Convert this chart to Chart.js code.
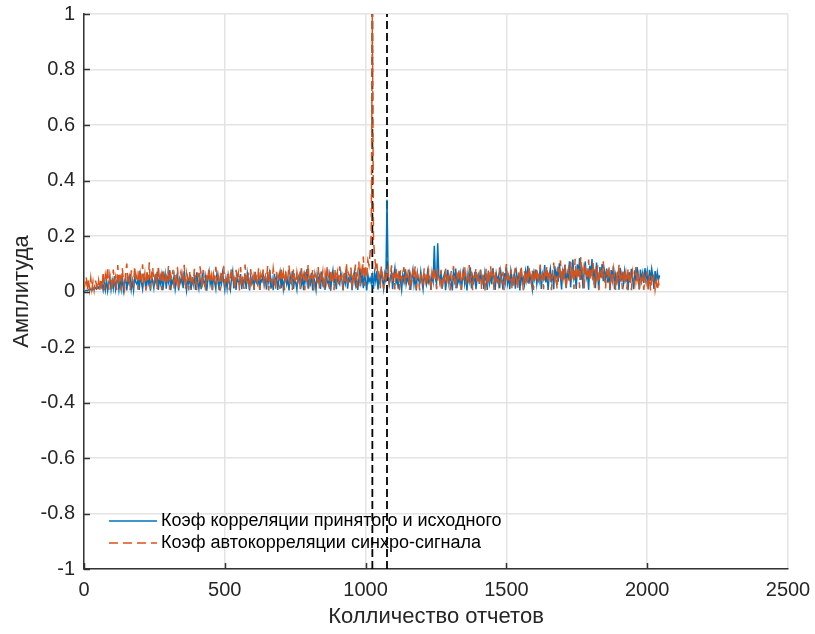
<!DOCTYPE html>
<html>
<head>
<meta charset="utf-8">
<title>Корреляция</title>
<script src="https://cdn.jsdelivr.net/npm/chart.js@4.4.1/dist/chart.umd.min.js"></script>
<style>
  html, body { margin: 0; padding: 0; background: #ffffff; }
  #wrap { width: 815px; height: 634px; }
</style>
</head>
<body>
<div id="wrap"><canvas id="chart" width="815" height="634"></canvas></div>
<script>
// Sample spacing between stored values (in samples)
const SAMPLE_STEP = 4;

// Коэф корреляции принятого и исходного (every 4th sample, 0..2044)
const corrRxTx = [
  0.000, 0.002, 0.004, 0.003, 0.006, 0.005, 0.009, 0.004, 0.011, 0.007, 0.014, 0.009, 0.018, 0.012, 0.021, 0.015,
  0.027, 0.005, 0.034, 0.006, 0.042, 0.003, 0.031, 0.048, 0.007, 0.039, 0.012, 0.055, 0.008, 0.036, 0.046, 0.006,
  0.041, 0.010, 0.058, 0.005, 0.035, 0.049, 0.004, 0.044, 0.029, 0.063, 0.009, 0.038, 0.004, 0.052, 0.033, 0.026,
  0.047, 0.006, 0.061, 0.032, 0.009, 0.054, 0.039, 0.008, 0.066, 0.027, 0.043, 0.003, 0.057, 0.035, 0.012, 0.049,
  0.031, 0.072, 0.006, 0.045, 0.028, 0.058, 0.005, 0.039, 0.064, 0.010, 0.051, 0.034, 0.077, 0.005, 0.042, 0.029,
  0.056, 0.009, 0.038, 0.067, 0.004, 0.046, 0.031, 0.059, 0.012, 0.074, 0.036, 0.004, 0.049, 0.027, 0.062, 0.006,
  0.043, 0.028, 0.055, 0.006, 0.069, 0.033, 0.010, 0.047, 0.008, 0.061, 0.038, 0.025, 0.053, 0.003, 0.044, 0.071,
  0.026, 0.048, 0.005, 0.059, 0.034, 0.010, 0.065, 0.041, 0.005, 0.052, 0.029, 0.068, 0.037, 0.006, 0.046, 0.012,
  0.058, 0.031, 0.007, 0.049, 0.073, 0.011, 0.042, 0.006, 0.056, 0.035, 0.027, 0.063, 0.008, 0.045, 0.032, 0.051,
  0.009, 0.066, 0.038, 0.004, 0.054, 0.029, 0.047, 0.006, 0.071, 0.033, 0.025, 0.058, 0.006, 0.043, 0.036, 0.062,
  0.027, 0.049, 0.007, 0.057, 0.034, 0.078, 0.010, 0.041, 0.005, 0.064, 0.031, 0.052, 0.006, 0.046, 0.069, 0.012,
  0.053, 0.008, 0.039, 0.061, 0.027, 0.045, 0.004, 0.058, 0.035, 0.074, 0.009, 0.048, 0.031, 0.007, 0.055, 0.038,
  0.064, 0.025, 0.047, 0.005, 0.059, 0.036, 0.081, 0.010, 0.043, 0.028, 0.067, 0.004, 0.051, 0.034, 0.006, 0.062,
  0.037, 0.054, 0.009, 0.072, 0.029, 0.046, 0.006, 0.063, 0.038, 0.025, 0.057, 0.003, 0.049, 0.076, 0.032, 0.044,
  0.008, 0.059, 0.035, 0.026, 0.068, 0.041, 0.004, 0.053, 0.031, 0.079, 0.010, 0.046, 0.037, 0.061, 0.005, 0.048,
  0.071, 0.027, 0.052, 0.006, 0.044, 0.083, 0.033, 0.058, 0.012, 0.066, 0.039, 0.004, 0.061, 0.035, 0.048, 0.029,
  0.055, 0.009, 0.067, 0.038, 0.074, 0.007, 0.049, 0.029, 0.082, 0.043, 0.011, 0.061, 0.034, 0.331, 0.052, 0.026,
  0.047, 0.069, 0.008, 0.056, 0.084, 0.031, 0.045, 0.010, 0.073, 0.038, 0.006, 0.059, 0.036, 0.081, 0.027, 0.051,
  0.033, 0.062, 0.006, 0.048, 0.077, 0.025, 0.054, 0.004, 0.066, 0.041, 0.029, 0.071, 0.037, 0.008, 0.058, 0.044,
  0.026, 0.069, 0.035, 0.052, 0.006, 0.061, 0.038, 0.165, 0.045, 0.028, 0.174, 0.057, 0.031, 0.073, 0.010, 0.049,
  0.064, 0.005, 0.043, 0.078, 0.029, 0.055, 0.036, 0.004, 0.068, 0.041, 0.083, 0.012, 0.051, 0.033, 0.062, 0.006,
  0.046, 0.072, 0.028, 0.057, 0.004, 0.065, 0.039, 0.087, 0.011, 0.054, 0.034, 0.071, 0.008, 0.048, 0.061, 0.027,
  0.079, 0.036, 0.052, 0.009, 0.068, 0.043, 0.006, 0.075, 0.031, 0.058, 0.026, 0.084, 0.047, 0.006, 0.063, 0.038,
  0.055, 0.012, 0.071, 0.042, 0.007, 0.066, 0.035, 0.089, 0.029, 0.053, 0.008, 0.074, 0.046, 0.031, 0.062, 0.010,
  0.068, 0.039, 0.057, 0.004, 0.081, 0.034, 0.049, 0.025, 0.072, 0.044, 0.093, 0.028, 0.059, 0.037, 0.008, 0.066,
  0.045, 0.079, 0.027, 0.058, 0.038, 0.086, 0.009, 0.064, 0.047, 0.095, 0.033, 0.071, 0.006, 0.056, 0.082, 0.041,
  0.062, 0.008, 0.091, 0.048, 0.073, 0.035, 0.102, 0.054, 0.007, 0.083, 0.044, 0.097, 0.012, 0.068, 0.052, 0.109,
  0.015, 0.076, 0.115, 0.047, 0.064, 0.009, 0.098, 0.056, 0.121, 0.042, 0.085, 0.011, 0.072, 0.108, 0.049, 0.067,
  0.006, 0.093, 0.058, 0.117, 0.041, 0.079, 0.012, 0.104, 0.062, 0.007, 0.088, 0.051, 0.099, 0.037, 0.074, 0.045,
  0.083, 0.032, 0.066, 0.005, 0.077, 0.048, 0.091, 0.008, 0.059, 0.036, 0.072, 0.006, 0.085, 0.044, 0.061, 0.029,
  0.074, 0.041, 0.056, 0.005, 0.069, 0.033, 0.082, 0.047, 0.008, 0.076, 0.038, 0.088, 0.052, 0.007, 0.079, 0.043,
  0.067, 0.031, 0.084, 0.046, 0.072, 0.008, 0.078, 0.039, 0.081, 0.053, 0.009, 0.074, 0.035, 0.069, 0.042, 0.058
];

// Коэф автокорреляции синхро-сигнала (every 4th sample, 0..2044)
const autoCorrSync = [
  0.004, 0.031, 0.052, 0.004, 0.045, 0.008, 0.048, 0.008, 0.036, 0.005, 0.041, 0.027, 0.006, 0.039, 0.006, 0.047,
  0.008, 0.071, 0.004, 0.058, 0.033, 0.088, 0.006, 0.062, 0.041, 0.003, 0.079, 0.035, 0.054, 0.005, 0.095, 0.028,
  0.061, 0.004, 0.084, 0.039, 0.009, 0.067, 0.101, 0.031, 0.052, 0.005, 0.076, 0.044, 0.026, 0.091, 0.037, 0.058,
  0.006, 0.083, 0.047, 0.029, 0.098, 0.036, 0.064, 0.003, 0.072, 0.042, 0.105, 0.009, 0.057, 0.086, 0.033, 0.049,
  0.073, 0.008, 0.094, 0.038, 0.056, 0.005, 0.081, 0.043, 0.027, 0.069, 0.035, 0.092, 0.006, 0.061, 0.046, 0.078,
  0.010, 0.063, 0.039, 0.087, 0.004, 0.055, 0.071, 0.032, 0.048, 0.096, 0.008, 0.066, 0.041, 0.004, 0.074, 0.037,
  0.058, 0.029, 0.082, 0.045, 0.005, 0.068, 0.034, 0.091, 0.052, 0.009, 0.077, 0.038, 0.004, 0.064, 0.049, 0.085,
  0.031, 0.057, 0.006, 0.073, 0.042, 0.089, 0.026, 0.061, 0.035, 0.003, 0.069, 0.047, 0.093, 0.028, 0.054, 0.039,
  0.072, 0.005, 0.059, 0.084, 0.033, 0.046, 0.008, 0.078, 0.041, 0.065, 0.004, 0.088, 0.036, 0.053, 0.009, 0.097,
  0.044, 0.027, 0.068, 0.005, 0.081, 0.039, 0.057, 0.008, 0.074, 0.048, 0.031, 0.086, 0.006, 0.062, 0.043, 0.079,
  0.026, 0.055, 0.037, 0.092, 0.004, 0.066, 0.045, 0.029, 0.083, 0.052, 0.006, 0.071, 0.038, 0.058, 0.009, 0.087,
  0.041, 0.067, 0.004, 0.076, 0.034, 0.051, 0.095, 0.027, 0.063, 0.006, 0.082, 0.046, 0.029, 0.069, 0.037, 0.056,
  0.008, 0.084, 0.043, 0.061, 0.005, 0.073, 0.035, 0.098, 0.028, 0.054, 0.041, 0.077, 0.004, 0.066, 0.049, 0.031,
  0.088, 0.010, 0.059, 0.042, 0.071, 0.005, 0.064, 0.036, 0.093, 0.047, 0.008, 0.079, 0.034, 0.056, 0.005, 0.082,
  0.039, 0.068, 0.026, 0.091, 0.045, 0.058, 0.006, 0.074, 0.037, 0.103, 0.028, 0.063, 0.049, 0.086, 0.009, 0.071,
  0.044, 0.097, 0.012, 0.066, 0.108, 0.015, 0.079, 0.052, 0.126, 0.020, 0.089, 0.063, 0.112, 0.094, 0.138, 0.205,
  1.000, 0.186, 0.129, 0.087, 0.104, 0.046, 0.078, 0.012, 0.091, 0.054, 0.008, 0.072, 0.041, 0.064, 0.085, 0.029,
  0.057, 0.094, 0.036, 0.068, 0.007, 0.083, 0.045, 0.062, 0.005, 0.076, 0.039, 0.053, 0.088, 0.026, 0.065, 0.042,
  0.079, 0.006, 0.058, 0.035, 0.072, 0.047, 0.091, 0.009, 0.063, 0.041, 0.004, 0.069, 0.052, 0.031, 0.084, 0.038,
  0.061, 0.027, 0.075, 0.044, 0.006, 0.066, 0.036, 0.087, 0.049, 0.008, 0.071, 0.055, 0.033, 0.078, 0.005, 0.059,
  0.042, 0.083, 0.028, 0.067, 0.051, 0.004, 0.074, 0.038, 0.092, 0.045, 0.009, 0.069, 0.035, 0.081, 0.056, 0.006,
  0.064, 0.037, 0.089, 0.026, 0.058, 0.043, 0.095, 0.031, 0.072, 0.005, 0.061, 0.048, 0.084, 0.029, 0.053, 0.039,
  0.076, 0.008, 0.067, 0.045, 0.004, 0.082, 0.034, 0.059, 0.026, 0.091, 0.047, 0.068, 0.006, 0.073, 0.041, 0.055,
  0.028, 0.087, 0.049, 0.035, 0.071, 0.005, 0.063, 0.099, 0.032, 0.057, 0.044, 0.079, 0.007, 0.066, 0.038, 0.085,
  0.047, 0.009, 0.068, 0.036, 0.093, 0.052, 0.005, 0.074, 0.041, 0.061, 0.027, 0.088, 0.055, 0.033, 0.078, 0.006,
  0.063, 0.042, 0.086, 0.029, 0.057, 0.097, 0.038, 0.071, 0.008, 0.065, 0.048, 0.091, 0.031, 0.076, 0.054, 0.005,
  0.069, 0.104, 0.043, 0.058, 0.008, 0.088, 0.051, 0.112, 0.034, 0.073, 0.046, 0.095, 0.007, 0.064, 0.081, 0.039,
  0.107, 0.052, 0.074, 0.009, 0.118, 0.045, 0.066, 0.091, 0.012, 0.124, 0.057, 0.082, 0.008, 0.098, 0.061, 0.043,
  0.115, 0.037, 0.079, 0.056, 0.103, 0.009, 0.071, 0.048, 0.094, 0.005, 0.066, 0.085, 0.041, 0.109, 0.053, 0.011,
  0.077, 0.046, 0.092, 0.008, 0.063, 0.038, 0.084, 0.055, 0.005, 0.071, 0.042, 0.096, 0.031, 0.058, 0.008, 0.079,
  0.044, 0.067, 0.007, 0.083, 0.036, 0.058, 0.005, 0.072, 0.049, 0.027, 0.088, 0.039, 0.061, 0.008, 0.054, 0.035,
  0.068, 0.006, 0.049, 0.031, 0.073, 0.008, 0.057, 0.004, 0.046, 0.029, 0.062, 0.007, 0.038, 0.005, 0.033, 0.007
];

// Positions (samples) of the two synchronisation markers
const markerX = [1024, 1076];

// Axis ticks
const xTicks = [0, 500, 1000, 1500, 2000, 2500];
const yTicks = [-1, -0.8, -0.6, -0.4, -0.2, 0, 0.2, 0.4, 0.6, 0.8, 1];

const seriesNames = [
  'Коэф корреляции принятого и исходного',
  'Коэф автокорреляции синхро-сигнала'
];

const BLUE = '#0072BD';
const ORANGE = '#D95319';
const TEXT = '#262626';
const FONT = '"Liberation Sans", Arial, Helvetica, sans-serif';
const ORANGE_DASH = [9, 5];

const toPoints = arr => arr.map((v, i) => ({ x: i * SAMPLE_STEP, y: v }));

const markerSets = markerX.map(mx => ({
  label: '',
  data: [{ x: mx, y: yTicks[0] }, { x: mx, y: yTicks[yTicks.length - 1] }],
  borderColor: '#000000',
  borderWidth: 1.8,
  borderDash: [8, 4],
  pointRadius: 0,
  order: 2
}));

// Legend without a frame, lower-left inside the plot area,
// plus MATLAB-style inward tick marks.
const overlay = {
  id: 'overlay',
  afterDatasetsDraw(chart) {
    const ctx = chart.ctx;
    const area = chart.chartArea;
    const xs = chart.scales.x, ys = chart.scales.y;
    ctx.save();
    // inward ticks
    ctx.strokeStyle = '#333333';
    ctx.lineWidth = 1.5;
    ctx.beginPath();
    yTicks.forEach(v => {
      const py = Math.round(ys.getPixelForValue(v)) + 0.5;
      ctx.moveTo(area.left, py);
      ctx.lineTo(area.left + 6, py);
    });
    xTicks.slice(0, -1).forEach(v => {
      const px = Math.round(xs.getPixelForValue(v)) + 0.5;
      ctx.moveTo(px, area.bottom);
      ctx.lineTo(px, area.bottom - 6);
    });
    ctx.stroke();

    // legend
    const lx0 = area.left + 25, lx1 = area.left + 73, tx = area.left + 77;
    const rows = [area.bottom - 48, area.bottom - 26];
    ctx.font = '18px ' + FONT;
    ctx.textBaseline = 'middle';
    ctx.textAlign = 'left';
    ctx.lineWidth = 1.4;
    ctx.setLineDash([]);
    ctx.strokeStyle = BLUE;
    ctx.beginPath(); ctx.moveTo(lx0, rows[0]); ctx.lineTo(lx1, rows[0]); ctx.stroke();
    ctx.setLineDash(ORANGE_DASH);
    ctx.strokeStyle = ORANGE;
    ctx.beginPath(); ctx.moveTo(lx0, rows[1]); ctx.lineTo(lx1, rows[1]); ctx.stroke();
    ctx.setLineDash([]);
    ctx.fillStyle = '#000000';
    ctx.fillText(seriesNames[0], tx, rows[0]);
    ctx.fillText(seriesNames[1], tx, rows[1]);
    ctx.restore();
  }
};

new Chart(document.getElementById('chart'), {
  type: 'line',
  data: {
    datasets: [
      {
        label: seriesNames[1],
        data: toPoints(autoCorrSync),
        borderColor: ORANGE,
        borderWidth: 1.5,
        borderDash: ORANGE_DASH,
        pointRadius: 0,
        order: 0
      },
      {
        label: seriesNames[0],
        data: toPoints(corrRxTx),
        borderColor: BLUE,
        borderWidth: 1.5,
        pointRadius: 0,
        order: 1
      },
      ...markerSets
    ]
  },
  options: {
    responsive: false,
    animation: false,
    devicePixelRatio: 1,
    layout: { padding: { top: 14, right: 27, left: 0, bottom: 0 } },
    plugins: {
      legend: { display: false },
      tooltip: { enabled: false }
    },
    scales: {
      x: {
        type: 'linear',
        min: xTicks[0],
        max: xTicks[xTicks.length - 1],
        afterFit(scale) {
          scale.height = 65;
          scale.paddingLeft = 0;
          scale.paddingRight = 0;
        },
        afterBuildTicks(scale) { scale.ticks = xTicks.map(v => ({ value: v })); },
        ticks: {
          callback: v => String(v),
          font: { family: FONT, size: 20 },
          color: TEXT,
          padding: 9,
          maxRotation: 0
        },
        grid: { color: '#e4e4e4', lineWidth: 1.5, drawTicks: false },
        border: { display: true, color: '#333333', width: 1.5 },
        title: {
          display: true,
          text: 'Колличество отчетов',
          font: { family: FONT, size: 22 },
          color: TEXT,
          padding: { top: 0, bottom: 4 }
        }
      },
      y: {
        type: 'linear',
        min: yTicks[0],
        max: yTicks[yTicks.length - 1],
        afterFit(scale) {
          scale.width = 84;
          scale.paddingTop = 0;
          scale.paddingBottom = 0;
        },
        afterBuildTicks(scale) { scale.ticks = yTicks.map(v => ({ value: v })); },
        ticks: {
          callback: v => String(Number(v.toFixed(1))),
          font: { family: FONT, size: 20 },
          color: TEXT,
          padding: 9
        },
        grid: { color: '#e4e4e4', lineWidth: 1.5, drawTicks: false },
        border: { display: true, color: '#333333', width: 1.5 },
        title: {
          display: true,
          text: 'Амплитуда',
          font: { family: FONT, size: 22 },
          color: TEXT,
          padding: { top: 9, bottom: 0 }
        }
      }
    }
  },
  plugins: [overlay]
});
</script>
</body>
</html>
